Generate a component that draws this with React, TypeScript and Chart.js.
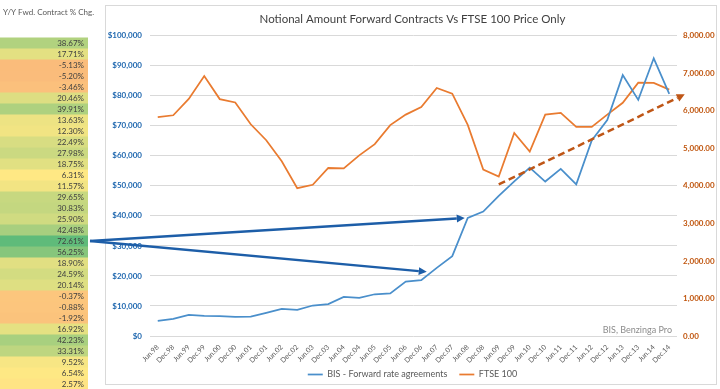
import React, { useEffect, useRef } from 'react';
import { Chart, registerables } from 'chart.js';

Chart.register(...registerables);

// ---------- data ----------
const categories = [
  'Jun.98', 'Dec.98', 'Jun.99', 'Dec.99', 'Jun.00', 'Dec.00', 'Jun.01', 'Dec.01',
  'Jun.02', 'Dec.02', 'Jun.03', 'Dec.03', 'Jun.04', 'Dec.04', 'Jun.05', 'Dec.05',
  'Jun.06', 'Dec.06', 'Jun.07', 'Dec.07', 'Jun.08', 'Dec.08', 'Jun.09', 'Dec.09',
  'Jun.10', 'Dec.10', 'Jun.11', 'Dec.11', 'Jun.12', 'Dec.12', 'Jun.13', 'Dec.13',
  'Jun.14', 'Dec.14',
];

const bisForwardRateAgreements = [
  5050, 5700, 7000, 6700, 6650, 6350, 6450, 7700,
  9000, 8700, 10150, 10650, 13000, 12700, 13900, 14200,
  18100, 18600, 22700, 26600, 39300, 41450, 46700, 51500,
  56100, 51450, 55650, 50500, 65150, 71900, 86900, 78650,
  92500, 80650,
];

const ftse100 = [
  5833, 5882, 6318, 6930, 6313, 6222, 5643, 5217,
  4656, 3940, 4031, 4477, 4464, 4814, 5113, 5619,
  5900, 6100, 6608, 6457, 5626, 4434, 4249, 5413,
  4917, 5900, 5946, 5572, 5571, 5898, 6215, 6749,
  6744, 6566,
];

const yoyHeader = 'Y/Y Fwd. Contract % Chg.';
const yoyChange = [
  38.67, 17.71, -5.13, -5.2, -3.46, 20.46, 39.91, 13.63,
  12.3, 22.49, 27.98, 18.75, 6.31, 11.57, 29.65, 30.83,
  25.9, 42.48, 72.61, 56.25, 18.9, 24.59, 20.14, -0.37,
  -0.88, -1.92, 16.92, 42.23, 33.31, 9.52, 6.54, 2.57,
];

const seriesNames = ['BIS - Forward rate agreements', 'FTSE 100'];
const titleText = 'Notional Amount Forward Contracts Vs FTSE 100 Price Only';
const sourceText = 'BIS, Benzinga Pro';

// annotation anchors (category index, value on right axis)
const trendStart = { index: 22, value: 4040 };
const trendEnd = { index: 34, value: 6440 };
const arrowHighIndex = 20; // Jun.08
const arrowLowIndex = 18; // Jun.07

// ---------- styling ----------
const FONT = 'Lato, "Open Sans", sans-serif';
const BLUE = '#4A8FCB';
const ORANGE = '#E97B30';
const AXIS_BLUE = '#2169B0';
const AXIS_BROWN = '#C0560F';
const ARROW_BLUE = '#1D5EA8';
const TREND_BROWN = '#BF5616';

const TABLE_TOP = 37.5;
const ROW_H = 11;
const TABLE_W = 88;

const heatStops: [number, number, number, number][] = [
  [-5.2, 250, 188, 123],
  [-0.4, 252, 198, 125],
  [2.5, 255, 228, 132],
  [6.3, 255, 232, 132],
  [72.61, 95, 187, 122],
];

function heatColor(v: number): string {
  if (v <= heatStops[0][0]) {
    const s = heatStops[0];
    return `rgb(${s[1]},${s[2]},${s[3]})`;
  }
  for (let i = 1; i < heatStops.length; i++) {
    const a = heatStops[i - 1];
    const b = heatStops[i];
    if (v <= b[0]) {
      const t = (v - a[0]) / (b[0] - a[0]);
      const r = Math.round(a[1] + (b[1] - a[1]) * t);
      const g = Math.round(a[2] + (b[2] - a[2]) * t);
      const bl = Math.round(a[3] + (b[3] - a[3]) * t);
      return `rgb(${r},${g},${bl})`;
    }
  }
  const s = heatStops[heatStops.length - 1];
  return `rgb(${s[1]},${s[2]},${s[3]})`;
}

function drawArrow(
  ctx: CanvasRenderingContext2D,
  x0: number, y0: number, x1: number, y1: number,
  color: string, width: number, dash: number[], head = 8, halfW = 4,
) {
  const ang = Math.atan2(y1 - y0, x1 - x0);
  const bx = x1 - head * Math.cos(ang);
  const by = y1 - head * Math.sin(ang);
  ctx.save();
  ctx.strokeStyle = color;
  ctx.lineWidth = width;
  ctx.setLineDash(dash);
  ctx.beginPath();
  ctx.moveTo(x0, y0);
  ctx.lineTo(bx, by);
  ctx.stroke();
  ctx.setLineDash([]);
  ctx.fillStyle = color;
  ctx.beginPath();
  ctx.moveTo(x1, y1);
  ctx.lineTo(bx - halfW * Math.sin(ang), by + halfW * Math.cos(ang));
  ctx.lineTo(bx + halfW * Math.sin(ang), by - halfW * Math.cos(ang));
  ctx.closePath();
  ctx.fill();
  ctx.restore();
}

const decorPlugin = {
  id: 'decor',
  beforeDraw(chart: any) {
    const ctx: CanvasRenderingContext2D = chart.ctx;
    ctx.save();
    ctx.fillStyle = '#ffffff';
    ctx.fillRect(0, 0, chart.width, chart.height);

    // chart frame
    ctx.strokeStyle = '#D9D9D9';
    ctx.lineWidth = 1;
    ctx.strokeRect(105.5, 5.5, 611, 379);

    // side table
    ctx.font = `8px ${FONT}`;
    ctx.fillStyle = '#595959';
    ctx.textBaseline = 'middle';
    ctx.textAlign = 'left';
    ctx.fillText(yoyHeader, 3, 12);
    yoyChange.forEach((v, i) => {
      const top = TABLE_TOP + i * ROW_H;
      ctx.fillStyle = heatColor(v);
      ctx.fillRect(0, top, TABLE_W, ROW_H + 0.5);
      ctx.fillStyle = '#404040';
      ctx.textAlign = 'right';
      ctx.fillText(v.toFixed(2) + '%', TABLE_W - 4, top + ROW_H / 2 + 0.5);
    });
    ctx.restore();
  },
  afterDraw(chart: any) {
    const ctx: CanvasRenderingContext2D = chart.ctx;
    const xs = chart.scales.x;
    const yl = chart.scales.y;
    const yr = chart.scales.y1;
    const area = chart.chartArea;

    ctx.save();
    ctx.font = `9px ${FONT}`;
    ctx.fillStyle = '#8C8C8C';
    ctx.textAlign = 'right';
    ctx.textBaseline = 'alphabetic';
    ctx.fillText(sourceText, area.right - 5, area.bottom - 3);
    ctx.restore();

    const maxRow = yoyChange.indexOf(Math.max(...yoyChange));
    const sx = TABLE_W + 2;
    const sy = TABLE_TOP + maxRow * ROW_H + ROW_H / 2;

    drawArrow(ctx, sx, sy,
      xs.getPixelForValue(arrowHighIndex) - 3,
      yl.getPixelForValue(bisForwardRateAgreements[arrowHighIndex]),
      ARROW_BLUE, 2.5, []);
    drawArrow(ctx, sx, sy,
      xs.getPixelForValue(arrowLowIndex) - 10,
      yl.getPixelForValue(bisForwardRateAgreements[arrowLowIndex]) + 4,
      ARROW_BLUE, 2.5, []);
    drawArrow(ctx,
      xs.getPixelForValue(trendStart.index), yr.getPixelForValue(trendStart.value),
      xs.getPixelForValue(trendEnd.index), yr.getPixelForValue(trendEnd.value),
      TREND_BROWN, 2.5, [7, 4]);
  },
};

export default function App() {
  const canvasRef = useRef<HTMLCanvasElement | null>(null);

  useEffect(() => {
    document.body.style.margin = '0';
    const canvas = canvasRef.current;
    if (!canvas) return;
    const chart = new Chart(canvas, {
      type: 'line',
      data: {
        labels: categories,
        datasets: [
          {
            label: seriesNames[0],
            data: bisForwardRateAgreements,
            borderColor: BLUE,
            backgroundColor: BLUE,
            borderWidth: 1.75,
            pointRadius: 0,
            tension: 0,
            yAxisID: 'y',
          },
          {
            label: seriesNames[1],
            data: ftse100,
            borderColor: ORANGE,
            backgroundColor: ORANGE,
            borderWidth: 1.75,
            pointRadius: 0,
            tension: 0,
            yAxisID: 'y1',
          },
        ],
      },
      options: {
        responsive: false,
        animation: false,
        devicePixelRatio: 1,
        layout: { padding: { left: 108, right: 3, top: 0, bottom: 0 } },
        plugins: {
          title: {
            display: true,
            text: titleText,
            color: '#404040',
            font: { family: FONT, size: 11.5, weight: 'normal' as any, lineHeight: 1.2 },
            padding: { top: 12, bottom: 10 },
          },
          legend: {
            display: true,
            position: 'bottom',
            labels: {
              usePointStyle: true,
              pointStyle: 'line',
              pointStyleWidth: 15,
              color: '#595959',
              font: { family: FONT, size: 9 },
              padding: 12,
            },
          },
          tooltip: { enabled: false },
        },
        scales: {
          x: {
            type: 'category',
            offset: true,
            grid: { display: false, drawTicks: false },
            border: { display: false },
            ticks: {
              autoSkip: false,
              minRotation: 45,
              maxRotation: 45,
              color: '#595959',
              font: { family: FONT, size: 7 },
              padding: 7,
            },
            afterFit: (s: any) => {
              s.height = 22;
              s._computeLabelArea = () => undefined;
            },
          },
          y: {
            position: 'left',
            min: 0,
            max: 100000,
            grid: { color: '#D9D9D9', drawTicks: false },
            border: { display: false },
            ticks: {
              stepSize: 10000,
              color: AXIS_BLUE,
              font: { family: FONT, size: 8, weight: 'bold' as any },
              padding: 8,
              callback: (v: any) => '$' + Number(v).toLocaleString('en-US'),
            },
            afterFit: (s: any) => { s.width = 42; },
          },
          y1: {
            position: 'right',
            min: 0,
            max: 8000,
            grid: { drawOnChartArea: false, drawTicks: false },
            border: { display: false },
            ticks: {
              stepSize: 1000,
              color: AXIS_BROWN,
              font: { family: FONT, size: 8, weight: 'bold' as any },
              padding: 6,
              callback: (v: any) =>
                Number(v).toLocaleString('en-US', { minimumFractionDigits: 2, maximumFractionDigits: 2 }),
            },
            afterFit: (s: any) => { s.width = 40; },
          },
        },
      },
      plugins: [decorPlugin],
    });
    return () => chart.destroy();
  }, []);

  return (
    <div style={{ width: 720, height: 389, position: 'relative' }}>
      <canvas ref={canvasRef} width={720} height={389} style={{ display: 'block' }} />
    </div>
  );
}
